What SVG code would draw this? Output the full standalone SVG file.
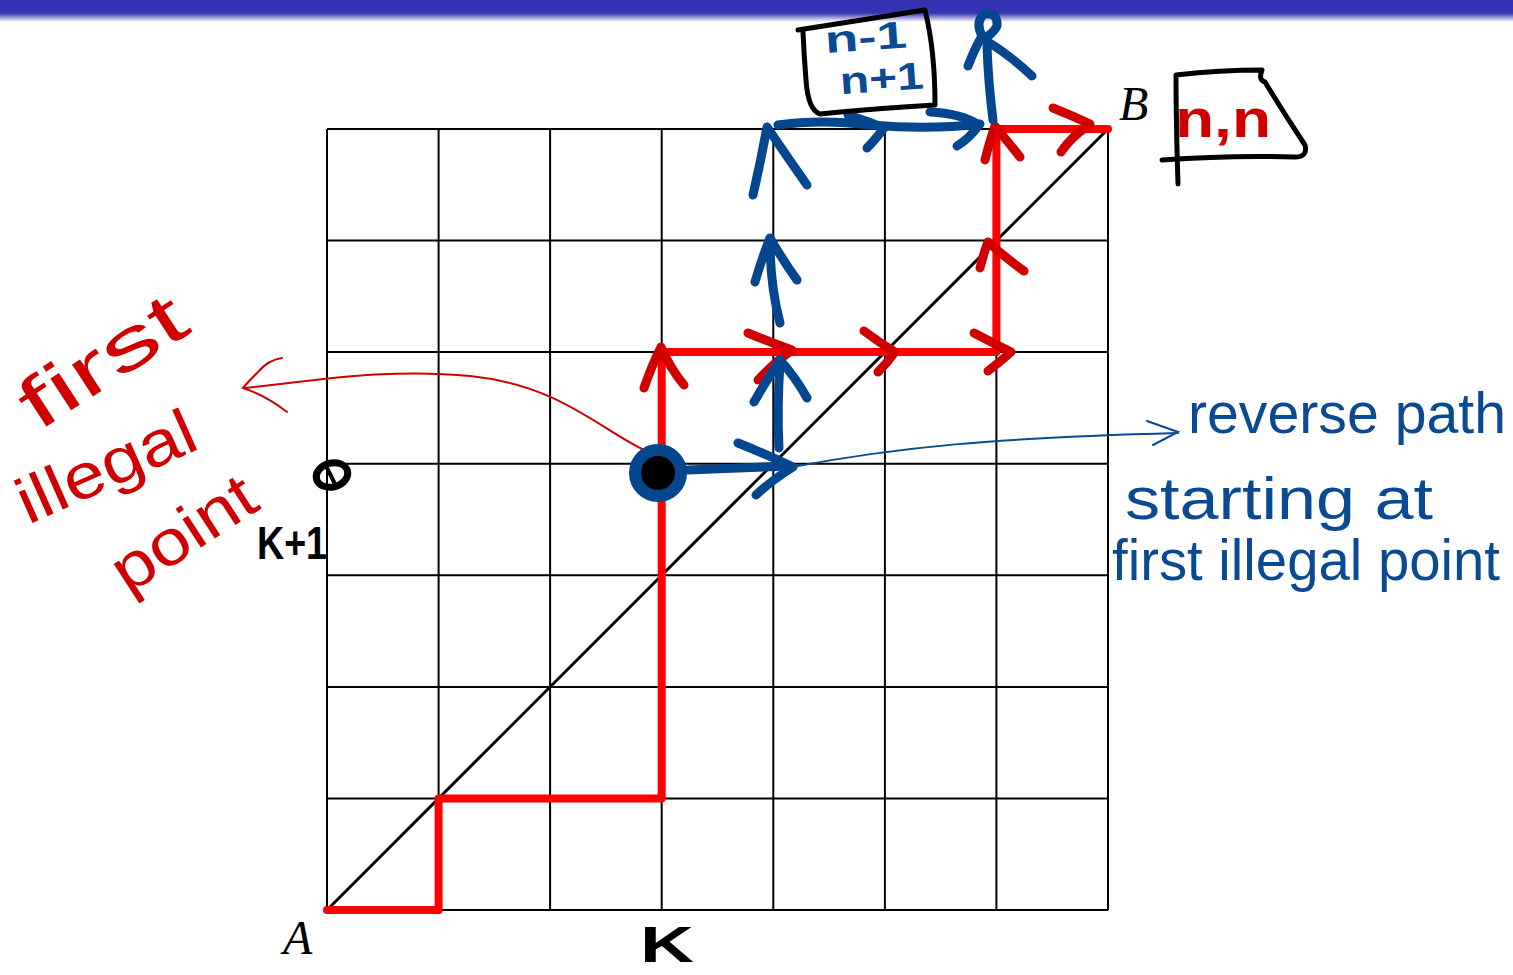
<svg xmlns="http://www.w3.org/2000/svg" width="1513" height="975" viewBox="0 0 1513 975">
<defs>
<linearGradient id="barfade" x1="0" y1="0" x2="0" y2="1">
<stop offset="0" stop-color="#3434b2"/>
<stop offset="1" stop-color="#ffffff"/>
</linearGradient>
<style>
.grid{stroke:#000;stroke-width:2;fill:none}
.red{stroke:#ff0000;stroke-width:8;fill:none;stroke-linejoin:round;stroke-linecap:round}
.rchev{stroke:#d10000;stroke-width:9;fill:none;stroke-linecap:round;stroke-linejoin:round}
.bchev{stroke:#04478f;stroke-width:9;fill:none;stroke-linecap:round;stroke-linejoin:round}
.ink{stroke:#000;stroke-width:5;fill:none;stroke-linecap:round;stroke-linejoin:round}
.thinred{stroke:#d10000;stroke-width:2;fill:none;stroke-linecap:round}
.thinblue{stroke:#0a4a92;stroke-width:2;fill:none;stroke-linecap:round}
.hred{font-family:"Liberation Sans",Arial,sans-serif;fill:#d10000}
.hblue{font-family:"Liberation Sans",Arial,sans-serif;fill:#0a4a92}
.hblack{font-family:"Liberation Sans",Arial,sans-serif;fill:#000;font-weight:bold}
.math{font-family:"Liberation Serif","Times New Roman",serif;font-style:italic;fill:#000}
</style>
</defs>
<rect width="1513" height="975" fill="#fff"/>
<rect x="0" y="0" width="1513" height="13" fill="#3434b2"/>
<rect x="0" y="13" width="1513" height="9" fill="url(#barfade)"/>

<g id="grid">
<path class="grid" d="M327 129V910M438.6 129V910M550.1 129V910M661.7 129V910M773.3 129V910M884.9 129V910M996.4 129V910M1108 129V910"/>
<path class="grid" d="M327 129H1108M327 240.6H1108M327 352.1H1108M327 463.7H1108M327 575.3H1108M327 686.9H1108M327 798.4H1108M327 910H1108"/>
<line x1="327" y1="910" x2="1108" y2="129" stroke="#000" stroke-width="3"/>
</g>

<g id="connectors">
<path id="red-path" class="red" d="M327 910H438.6V798.4H661.7V352.1H996.4V129H1108"/>
<g id="red-arrows">
<path class="rchev" d="M644 388Q652 365 661 347Q670 368 684 385"/>
<path class="rchev" d="M748 333Q772 343 792 350Q775 362 758 380"/>
<path class="rchev" d="M864 331Q880 343 895 352Q888 362 878 372"/>
<path class="rchev" d="M974 333Q993 343 1011 352Q1000 362 988 371"/>
<path class="rchev" d="M980 268Q984 252 988 242Q1006 258 1024 271"/>
<path class="rchev" d="M985 160Q990 140 995 126Q1008 142 1020 157"/>
<path class="rchev" d="M1053 108Q1073 116 1090 124Q1070 138 1061 152"/>
</g>
<g id="blue-path">
<path class="bchev" d="M688 470L790 466" stroke-width="11"/>
<path class="bchev" d="M738 443Q768 455 793 467Q772 480 756 495"/>
<path class="bchev" d="M779 448Q777 410 780 362"/>
<path class="bchev" d="M754 402Q768 378 780 360Q796 378 807 398"/>
<path class="bchev" d="M780 323Q770 285 770 240"/>
<path class="bchev" d="M755 282Q762 258 770 238Q784 262 797 280"/>
<path class="bchev" d="M753 195Q761 160 767 127Q788 158 807 185"/>
<path class="bchev" d="M778 125Q820 119 870 125Q930 130 980 124"/>
<path class="bchev" d="M848 115Q870 122 884 128Q875 140 867 148"/>
<path class="bchev" d="M930 112Q960 113 979 125Q970 138 957 146"/>
<path class="bchev" d="M993 120Q988 80 987 45"/>
<path class="bchev" d="M968 66Q975 48 982 36Q975 22 984 14Q998 12 997 26Q992 36 982 38Q1010 55 1032 76"/>
</g>
<g id="pointer-red">
<path class="thinred" d="M648 452C600 430 560 385 470 376C390 368 320 380 245 388"/>
<path class="thinred" stroke-width="4" d="M282 358Q268 360 258 372Q248 382 243 388Q265 395 287 412"/>
</g>
<g id="pointer-blue">
<path class="thinblue" d="M792 467C900 447 990 438 1178 433"/>
<path class="thinblue" stroke-width="3" d="M1147 421L1178 432L1153 445"/>
</g>
</g>

<g id="node-dot">
<circle cx="662" cy="465" r="14" fill="#d10000"/>
<circle cx="658" cy="473" r="23" fill="#000" stroke="#04478f" stroke-width="12"/>
</g>

<g id="node-A"><text class="math" x="283" y="954" font-size="48">A</text></g>
<g id="node-B"><text class="math" x="1119" y="120" font-size="48">B</text></g>

<g id="node-nminus">
<path class="ink" d="M798 30Q860 20 925 10Q935 50 935 105Q880 108 820 114Q808 110 806 80Q804 55 803 32"/>
<g transform="rotate(-4 870 55)">
<text class="hblue" x="826" y="50" font-size="38" font-weight="bold" textLength="82" lengthAdjust="spacingAndGlyphs">n-1</text>
<text class="hblue" x="838" y="92" font-size="38" font-weight="bold" textLength="84" lengthAdjust="spacingAndGlyphs">n+1</text>
</g>
</g>

<g id="node-nn">
<path class="ink" d="M1178 184Q1176 120 1176 75Q1220 70 1262 70Q1258 80 1265 82Q1285 115 1305 145Q1308 157 1295 157Q1230 155 1162 160"/>
<text class="hred" x="1175" y="137" font-size="54" font-weight="bold" textLength="96" lengthAdjust="spacingAndGlyphs">n,n</text>
</g>

<g id="node-k1">
<ellipse cx="332" cy="475" rx="16" ry="12" fill="none" stroke="#000" stroke-width="7" transform="rotate(-15 332 475)"/>
<path d="M326 466L336 486" stroke="#000" stroke-width="4" stroke-linecap="round"/>
<text class="hblack" x="257" y="559" font-size="46" textLength="70" lengthAdjust="spacingAndGlyphs">K+1</text>
</g>

<g id="node-k">
<text class="hblack" x="640" y="962" font-size="50" textLength="54" lengthAdjust="spacingAndGlyphs">K</text>
</g>

<g id="label-first-illegal">
<text class="hred" font-size="72" transform="translate(38 432) rotate(-33)" textLength="185" lengthAdjust="spacingAndGlyphs">first</text>
<text class="hred" font-size="64" transform="translate(28 525) rotate(-24)" textLength="190" lengthAdjust="spacingAndGlyphs">illegal</text>
<text class="hred" font-size="64" transform="translate(128 595) rotate(-33)" textLength="160" lengthAdjust="spacingAndGlyphs">point</text>
</g>

<g id="label-reverse">
<text class="hblue" x="1188" y="433" font-size="58" textLength="318" lengthAdjust="spacingAndGlyphs">reverse path</text>
<text class="hblue" x="1125" y="519" font-size="60" textLength="308" lengthAdjust="spacingAndGlyphs">starting at</text>
<text class="hblue" x="1112" y="580" font-size="58" textLength="388" lengthAdjust="spacingAndGlyphs">first illegal point</text>
</g>
</svg>
